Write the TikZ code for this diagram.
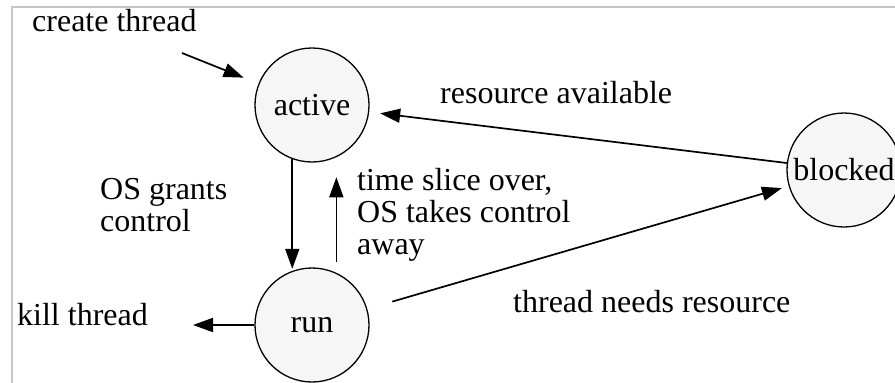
\documentclass[tikz,border=0pt]{standalone}
\usepackage{fontspec}
\setmainfont{Liberation Serif}
\usetikzlibrary{arrows.meta}
\begin{document}
\begin{tikzpicture}[x=1pt,y=-1pt,
  state/.style={circle,draw=black,line width=1.3pt,fill=gray!7,minimum size=114pt,inner sep=0pt,font=\fontsize{32}{32}\selectfont},
  lbl/.style={inner sep=0pt,font=\fontsize{32}{32}\selectfont,align=left},
  arr/.style={line width=1.7pt,-{Triangle[length=20pt,width=14pt]}}]
\useasboundingbox (0,0) rectangle (895,383);
\draw[gray!45,line width=1.2pt] (12,7) rectangle (905,395);
\node[state] (active) at (312,105) {active};
\node[state] (run) at (312,325) {run};
\node[state] (blocked) at (844,170) {blocked};
\coordinate (ct) at (182,53);
\coordinate (kt) at (193,325);
\node[lbl,anchor=base west] (lcreate) at (32,31) {create thread};
\node[lbl,anchor=north west] (lgrants) at (100,178) {OS grants\\control};
\node[lbl,anchor=north west] (lslice) at (357,168) {time slice over,\\OS takes control\\away};
\node[lbl,anchor=base west] (lres) at (440,103) {resource available};
\node[lbl,anchor=base west] (lneeds) at (513,312) {thread needs resource};
\node[lbl,anchor=base west] (lkill) at (17,325) {kill thread};
\draw[arr,shorten >=16pt] (ct) -- (active);
\draw[arr,shorten >=2pt] (active.250) -- (run.110);
\draw[arr,shorten <=11pt,shorten >=20pt] (run.65) -- (active.295);
\draw[arr,shorten >=11pt] (blocked) -- (active);
\draw[arr,shorten <=26pt,shorten >=7pt] (run) -- (blocked);
\draw[arr] (run.west) -- (kt);
\end{tikzpicture}
\end{document}
